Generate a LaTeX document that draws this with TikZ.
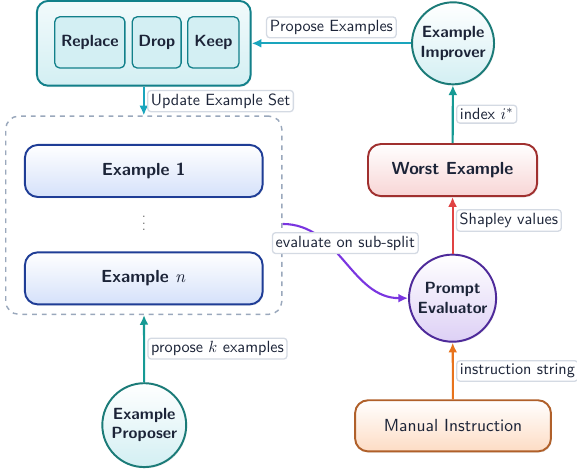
\documentclass[tikz,border=0pt]{standalone}
\usepackage{tikz}
\usepackage{xcolor}
\usepackage{amsmath}
\usepackage{amssymb}
\usetikzlibrary{calc,arrows,arrows.meta,shapes,shadows,positioning}

\definecolor{ink}{HTML}{1C2438}
\definecolor{tealdark}{HTML}{12808A}
\definecolor{tealfill}{HTML}{D3EFF3}
\definecolor{cyanarrow}{HTML}{1AA5BD}
\definecolor{tealcirc}{HTML}{1B7B78}
\definecolor{tealarrow}{HTML}{169A94}
\definecolor{bluedark}{HTML}{1F3D96}
\definecolor{bluefill}{HTML}{D5E1FA}
\definecolor{reddark}{HTML}{A0302F}
\definecolor{redfill}{HTML}{F8D5D5}
\definecolor{redarrow}{HTML}{E04343}
\definecolor{purpledark}{HTML}{4E2A9A}
\definecolor{purplefill}{HTML}{DDD0F5}
\definecolor{purplearrow}{HTML}{7A35E0}
\definecolor{orangedark}{HTML}{B0602A}
\definecolor{orangefill}{HTML}{FDDCC4}
\definecolor{orangearrow}{HTML}{E8731C}
\definecolor{pooldash}{HTML}{9AA8BC}
\definecolor{lblline}{HTML}{D4DAE3}

\begin{document}
\begin{tikzpicture}[font=\sffamily, text=ink, >={Latex[length=6pt,width=5.5pt]},
    shade/.style={drop shadow={opacity=0.15, shadow xshift=0.6pt, shadow yshift=-0.8pt}},
    exbox/.style={draw=bluedark, line width=1.2pt, rounded corners=8pt, shade, top color=white, bottom color=bluefill,
      minimum width=5.16cm, minimum height=1.13cm, font=\sffamily\bfseries\fontsize{10.8}{13}\selectfont},
    choice/.style={draw=tealdark, line width=0.8pt, rounded corners=3pt, fill=tealfill,
      minimum height=1.11cm, inner sep=2pt, font=\sffamily\bfseries},
    agent/.style={circle, line width=1.2pt, shade, align=center, inner sep=1pt, font=\sffamily\bfseries},
    lbl/.style={draw=lblline, fill=white, line width=0.8pt, rounded corners=2pt, inner sep=2pt, text=ink, font=\sffamily},
    link/.style={->, line width=1.3pt}]
  \useasboundingbox (0,0) rectangle (12.52,10.31);

  % left column
  \node[draw=tealdark, line width=1.2pt, rounded corners=7pt, shade, top color=tealfill!30, bottom color=tealfill,
    minimum width=4.64cm, minimum height=1.84cm] (edit) at (3.12,9.37) {};
  \node[choice, minimum width=1.52cm] (replace) at (1.95,9.39) {Replace};
  \node[choice, minimum width=1.06cm] (drop) at (3.40,9.39) {Drop};
  \node[choice, minimum width=1.11cm] (keep) at (4.63,9.39) {Keep};

  \node[draw=pooldash, dashed, line width=0.9pt, rounded corners=8pt,
    minimum width=5.99cm, minimum height=4.30cm] (pool) at (3.12,5.64) {};
  \node[exbox] (ex1) at (3.12,6.60) {Example 1};
  \node[text=gray] (dots) at (3.12,5.56) {$\vdots$};
  \node[exbox] (exn) at (3.12,4.27) {Example $\mathsf{\mathit{n}}$};

  \node[agent, draw=tealcirc, top color=white, bottom color=tealfill, minimum size=1.82cm] (proposer) at (3.13,1.085) {Example\\Proposer};

  % right column
  \node[agent, draw=tealcirc, top color=white, bottom color=tealfill, minimum size=1.78cm] (improver) at (9.83,9.37) {Example\\Improver};
  \node[draw=reddark, line width=1.2pt, rounded corners=8pt, shade, top color=white, bottom color=redfill,
    minimum width=3.67cm, minimum height=1.13cm, font=\sffamily\bfseries\fontsize{10.8}{13}\selectfont] (worst) at (9.82,6.62) {Worst Example};
  \node[agent, draw=purpledark, top color=white, bottom color=purplefill, minimum size=1.89cm] (eval) at (9.82,3.84) {Prompt\\Evaluator};
  \node[draw=orangedark, line width=1.2pt, rounded corners=8pt, shade, top color=white, bottom color=orangefill,
    minimum width=4.25cm, minimum height=1.11cm, font=\sffamily\fontsize{10.8}{13}\selectfont] (manual) at (9.83,1.07) {Manual Instruction};

  % arrows
  \draw[link, cyanarrow] (improver) -- node[lbl, above=3pt] {Propose Examples} (edit);
  \draw[link, cyanarrow] (edit) -- node[lbl, right=2pt] {Update Example Set} (pool);
  \draw[link, tealarrow] (proposer) -- node[lbl, right=2pt] {propose $k$ examples} (pool);
  \draw[link, tealarrow] (worst) -- node[lbl, right=2pt] {index $i^{*}$} (improver);
  \draw[link, redarrow] (eval) -- node[lbl, right=2pt, yshift=3pt] {Shapley values} (worst);
  \draw[link, orangearrow] (manual) -- node[lbl, right=2pt] {instruction string} (eval);
  \draw[link, purplearrow] ([yshift=-0.19cm]pool.east) to[out=0, in=180]
    node[lbl, yshift=0.39cm] {evaluate on sub-split} (eval);

\end{tikzpicture}
\end{document}
